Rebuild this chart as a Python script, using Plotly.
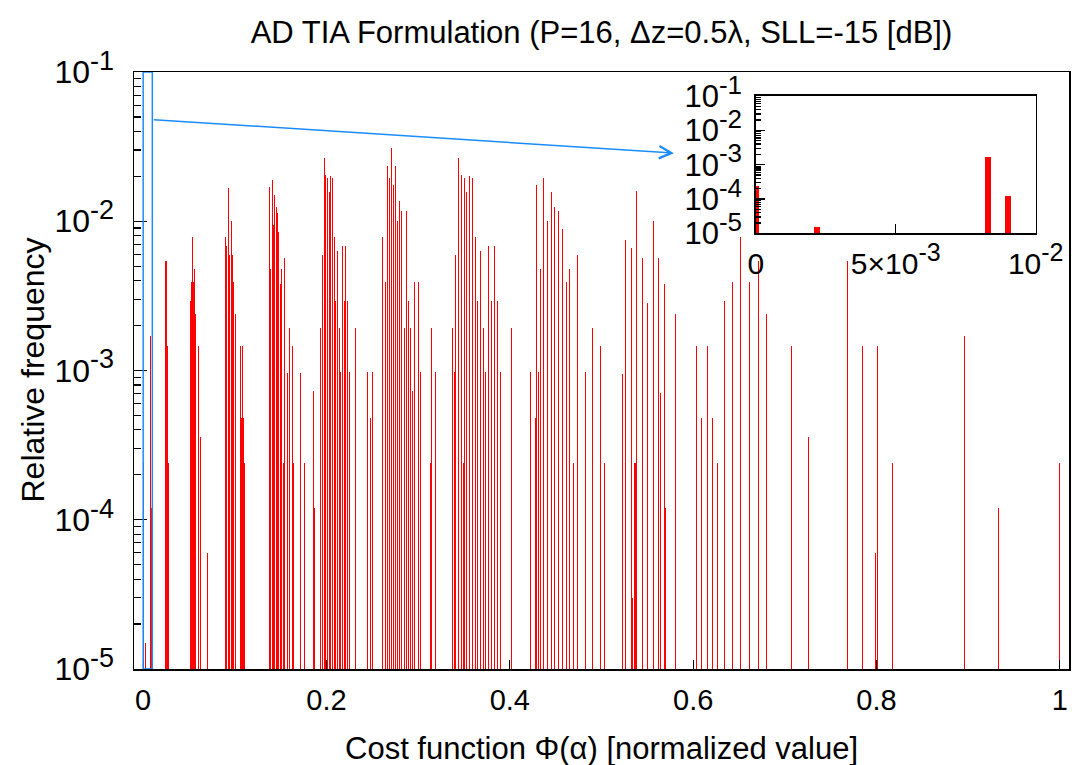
import math
import plotly.graph_objects as go

# ---------------- data ----------------
cost_values = [
    0.0, 0.0022, 0.0083, 0.0090, 0.0249, 0.0264, 0.0278,
    0.0519, 0.0526, 0.0533, 0.0548, 0.0555, 0.0570, 0.0602, 0.0624, 0.0704,
    0.0897, 0.0912, 0.0926, 0.0937, 0.0945, 0.0959, 0.0974, 0.0988, 0.1010,
    0.1061, 0.1075, 0.1086, 0.1097, 0.1108,
    0.1377, 0.1388, 0.1406, 0.1417, 0.1436, 0.1450, 0.1465, 0.1479, 0.1494,
    0.1508, 0.1527, 0.1537, 0.1570, 0.1596, 0.1629, 0.1643, 0.1716, 0.1760,
    0.1860, 0.1872,
    0.1934, 0.1956, 0.1974, 0.1989, 0.2007, 0.2028, 0.2047, 0.2065, 0.2083,
    0.2098, 0.2120, 0.2138, 0.2156, 0.2175, 0.2192, 0.2211, 0.2229, 0.2247,
    0.2320, 0.2447, 0.2484, 0.2502,
    0.2615, 0.2640, 0.2662, 0.2683, 0.2705, 0.2731, 0.2753, 0.2775, 0.2797,
    0.2822, 0.2847, 0.2869, 0.2891, 0.2917, 0.2939, 0.2964, 0.3008, 0.3029,
    0.3139, 0.3150, 0.3190,
    0.3376, 0.3397, 0.3412, 0.3441, 0.3470, 0.3491, 0.3502, 0.3528, 0.3561,
    0.3590, 0.3622, 0.3652, 0.3681, 0.3710, 0.3739, 0.3768, 0.3797, 0.3830,
    0.3862, 0.3895, 0.4015,
    0.4223, 0.4277, 0.4288, 0.4310, 0.4332, 0.4369, 0.4413, 0.4452, 0.4492,
    0.4533, 0.4576, 0.4616, 0.4656, 0.4697, 0.4740, 0.4828, 0.4904, 0.4987,
    0.5031,
    0.5231, 0.5267, 0.5329, 0.5336, 0.5355, 0.5369, 0.5384, 0.5446, 0.5504,
    0.5562, 0.5620, 0.5642, 0.5682, 0.5693, 0.5802,
    0.6032, 0.6094, 0.6152, 0.6210, 0.6268, 0.6337, 0.6428, 0.6520, 0.6613,
    0.6709, 0.6803, 0.7076, 0.7262, 0.7680, 0.7844, 0.7993, 0.8008, 0.8171,
    0.8961, 0.9328, 0.9995,
]

rel_frequency = [
    2.4e-4, 1.5e-5, 1.7e-3, 1.2e-4, 5.4e-3, 1.45e-3, 2.4e-4,
    2.9e-3, 3.9e-3, 7.8e-3, 3.9e-3, 4.8e-3, 2.4e-3, 1.45e-3, 3.6e-4, 6.0e-5,
    7.8e-3, 6.8e-3, 1.66e-2, 2.9e-3, 5.9e-3, 1.0e-2, 5.9e-3, 3.9e-3, 2.4e-3,
    1.45e-3, 4.8e-4, 1.45e-3, 4.8e-4, 2.4e-4,
    1.7e-2, 4.8e-3, 1.9e-2, 9.5e-3, 1.5e-2, 1.24e-2, 1.13e-2, 8.5e-3, 3.8e-3,
    4.8e-3, 2.4e-4, 5.7e-3, 9.6e-4, 1.93e-3, 1.45e-3, 2.4e-4, 9.6e-4, 2.4e-4,
    7.3e-4, 1.2e-4,
    1.94e-3, 5.9e-3, 2.65e-2, 2.05e-2, 1.95e-2, 1.56e-2, 2.0e-2, 1.95e-2, 7.8e-3,
    2.9e-3, 6.3e-3, 1.94e-3, 9.7e-4, 6.8e-3, 2.9e-3, 6.8e-3, 2.9e-3, 9.7e-4,
    1.94e-3, 9.7e-4, 4.8e-4, 9.7e-4,
    7.8e-3, 3.9e-3, 2.36e-2, 1.95e-2, 3.1e-2, 1.76e-2, 2.36e-2, 1.0e-2, 1.36e-2,
    1.17e-2, 1.94e-3, 1.17e-2, 2.9e-3, 1.94e-3, 7.3e-4, 3.9e-3, 3.9e-3, 9.7e-4,
    2.4e-4, 1.94e-3, 9.7e-4,
    1.94e-3, 9.7e-4, 5.9e-3, 2.65e-2, 2.05e-2, 2.4e-4, 1.95e-2, 1.56e-2, 2.0e-2,
    1.95e-2, 7.8e-3, 2.9e-3, 6.3e-3, 1.94e-3, 9.7e-4, 6.8e-3, 2.9e-3, 6.8e-3,
    2.9e-3, 9.7e-4, 1.94e-3,
    9.7e-4, 4.8e-4, 1.76e-2, 9.7e-4, 4.8e-3, 1.95e-2, 1.0e-2, 1.56e-2, 1.25e-2,
    1.17e-2, 8.9e-3, 3.9e-3, 4.8e-3, 2.4e-4, 5.9e-3, 9.7e-4, 1.94e-3, 1.45e-3,
    2.4e-4,
    9.5e-4, 7.5e-3, 6.6e-3, 3.0e-5, 2.4e-4, 2.4e-4, 1.6e-2, 5.7e-3, 2.85e-3,
    1.0e-2, 5.7e-3, 7.1e-4, 3.8e-3, 1.2e-4, 2.4e-3,
    1.45e-3, 4.8e-4, 1.45e-3, 4.8e-4, 2.4e-4, 2.9e-3, 3.9e-3, 7.8e-3, 3.9e-3,
    5.4e-3, 2.4e-3, 1.45e-3, 3.6e-4, 5.4e-3, 1.45e-3, 6.0e-5, 1.45e-3, 2.4e-4,
    1.7e-3, 1.2e-4, 2.4e-4,
]

main_x_ticks = [0, 0.2, 0.4, 0.6, 0.8, 1.0]
main_x_labels = ["0", "0.2", "0.4", "0.6", "0.8", "1"]
y_ticks = [1e-5, 1e-4, 1e-3, 1e-2, 1e-1]
y_exponents = ["-5", "-4", "-3", "-2", "-1"]
inset_x_ticks = [0, 0.005, 0.01]
zoom_limit = 0.01


def sup(exp, size):
    return "<sup><span style='font-size:%dpx'>%s</span></sup>" % (size, exp)


y_labels = ["10" + sup(e, 27) for e in y_exponents]
inset_y_labels = ["10" + sup(e, 26) for e in y_exponents]
inset_x_labels = ["0", "5×10" + sup("-3", 25), "10" + sup("-2", 25)]

# ---------------- figure ----------------
FONT = "Liberation Sans, Arial, Helvetica, sans-serif"
BAR_COLOR = "rgb(255,0,0)"
BLUE = "#1a8cff"

minor_vals = [m * 10 ** e for e in range(-5, -1) for m in range(2, 10)]

inset_x = [c for c in cost_values if c <= zoom_limit]
inset_y = [f for c, f in zip(cost_values, rel_frequency) if c <= zoom_limit]

fig = go.Figure()
fig.add_trace(go.Bar(
    x=cost_values, y=rel_frequency, width=0.0011,
    marker=dict(color=BAR_COLOR, line=dict(width=0)),
    xaxis="x", yaxis="y", showlegend=False,
))
fig.add_trace(go.Bar(
    x=inset_x, y=inset_y, width=0.00022,
    marker=dict(color=BAR_COLOR, line=dict(width=0)),
    xaxis="x2", yaxis="y2", showlegend=False,
))

axis_common = dict(showline=True, linecolor="black", linewidth=1.5, mirror=True,
                   showgrid=False, zeroline=False, ticks="inside",
                   tickcolor="black", tickwidth=1.2, automargin=False)

fig.update_layout(
    width=1072, height=765,
    margin=dict(l=134, r=3, t=72, b=96, autoexpand=False),
    paper_bgcolor="white", plot_bgcolor="white",
    font=dict(family=FONT, size=30, color="black"),
    bargap=0,
    title=dict(text="AD TIA Formulation (P=16, Δz=0.5λ, SLL=-15 [dB])",
               x=0.5, xref="paper", xanchor="center",
               y=1 - 32 / 765, yref="container", yanchor="middle",
               font=dict(size=31)),
    xaxis=dict(range=[-0.01, 1.01], tickvals=main_x_ticks, ticktext=main_x_labels,
               ticklen=9, ticklabelstandoff=5, tickfont=dict(size=29),
               **axis_common),
    yaxis=dict(type="log", range=[-5, -1], tickvals=y_ticks, ticktext=y_labels,
               ticklen=13, ticklabelstandoff=12, tickfont=dict(size=32),
               minor=dict(tickvals=minor_vals, ticks="inside", ticklen=7,
                          tickcolor="black", tickwidth=1.2, showgrid=False),
               **axis_common),
    xaxis2=dict(domain=[0.665, 0.9644], anchor="y2", range=[0, 0.01],
                tickvals=inset_x_ticks, ticktext=inset_x_labels,
                ticklen=9, ticklabelstandoff=3, tickfont=dict(size=30),
                **axis_common),
    yaxis2=dict(domain=[0.7298, 0.9598], anchor="x2", type="log", range=[-5, -1],
                tickvals=y_ticks, ticktext=inset_y_labels, ticklen=9,
                ticklabelstandoff=6, tickfont=dict(size=31),
                minor=dict(tickvals=minor_vals, ticks="inside", ticklen=5,
                           tickcolor="black", tickwidth=1.2, showgrid=False),
                **axis_common),
)

# axis titles
fig.add_annotation(text="Cost function Φ(α) [normalized value]", xref="paper", yref="paper",
                   x=0.5, y=(669 - 748) / 597, xanchor="center", yanchor="middle",
                   showarrow=False, font=dict(size=31))
fig.add_annotation(text="Relative frequency", xref="paper", yref="paper",
                   x=(32 - 134) / 935, y=0.5, xanchor="center", yanchor="middle",
                   textangle=-90, showarrow=False, font=dict(size=32))

# zoom box and arrow
fig.add_shape(type="rect", xref="x", yref="y", x0=0, x1=zoom_limit, y0=1e-5, y1=1e-1,
              line=dict(color=BLUE, width=1.5), fillcolor="rgba(0,0,0,0)")
fig.add_annotation(x=0.579, y=math.log10(0.0286), xref="x", yref="y",
                   ax=zoom_limit, ay=math.log10(0.048), axref="x", ayref="y",
                   text="", showarrow=True, arrowhead=5, arrowsize=1.6,
                   arrowwidth=1.5, arrowcolor=BLUE)

fig.write_html("out.html", config={"staticPlot": True})
